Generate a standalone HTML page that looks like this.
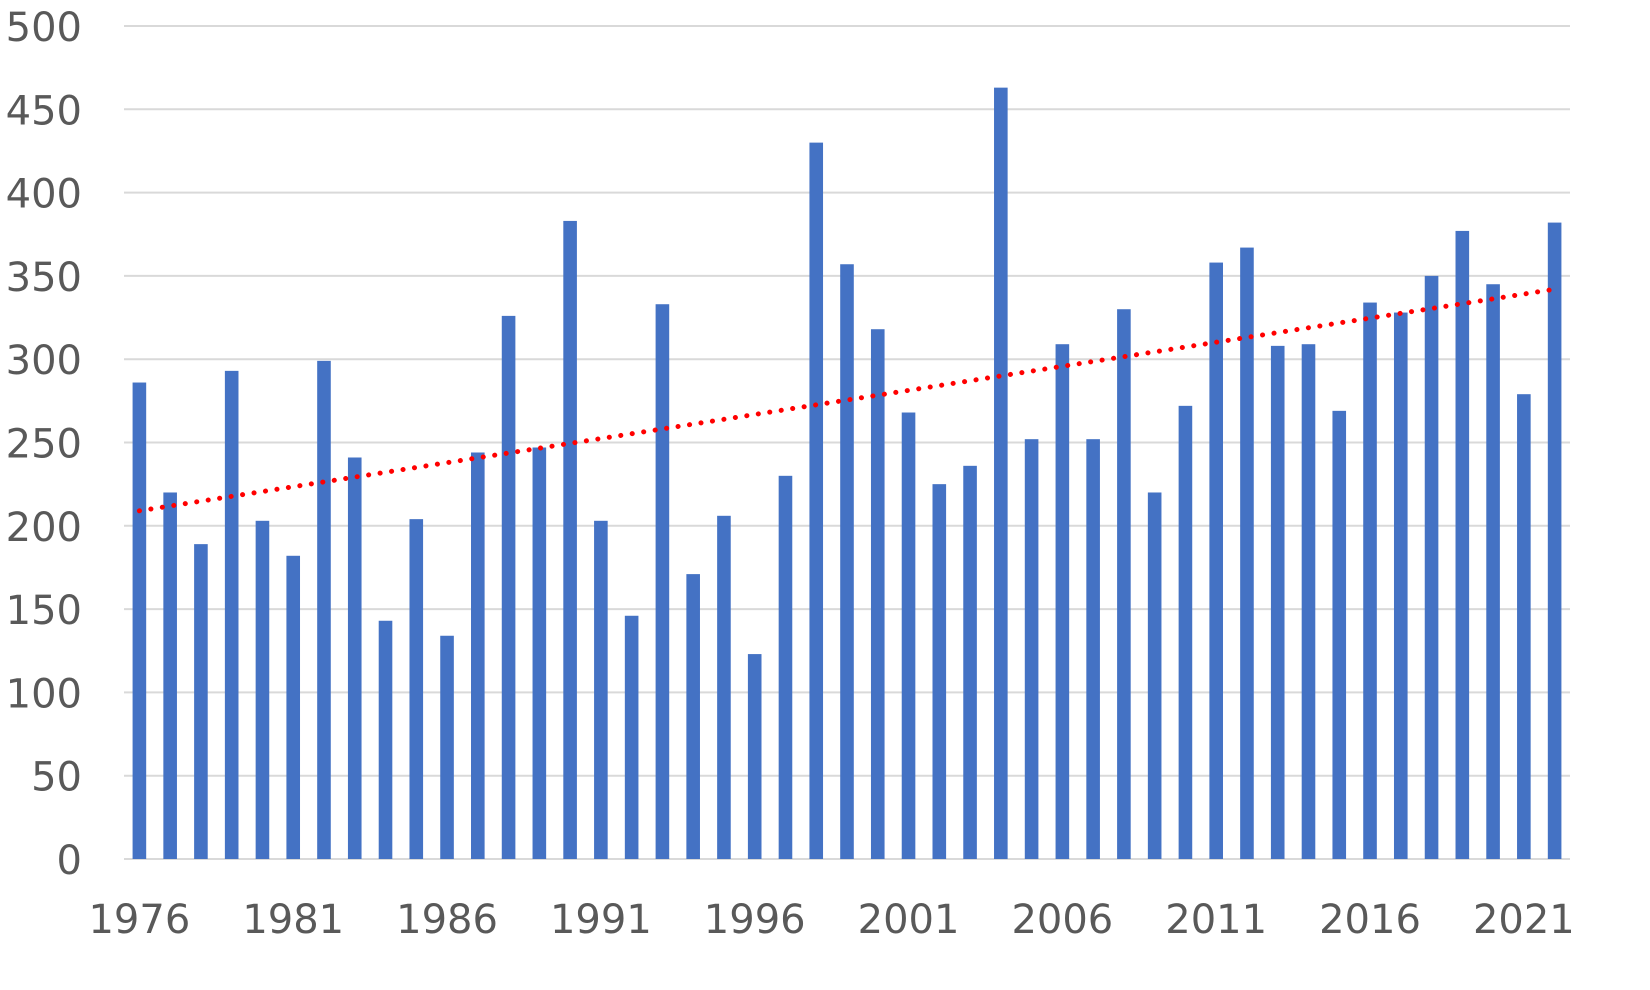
<!DOCTYPE html>
<html><head><meta charset="utf-8"><style>
html,body{margin:0;padding:0;background:#fff;width:1650px;height:990px;overflow:hidden}
svg text{font-family:"DejaVu Sans","Liberation Sans",sans-serif;fill:#595959;font-size:40px}
</style></head><body>
<svg id="c" width="1650" height="990" xmlns="http://www.w3.org/2000/svg"></svg>
<script>
var v=[286,220,189,293,203,182,299,241,143,204,134,244,326,247,383,203,146,333,171,206,123,230,430,357,318,268,225,236,463,252,309,252,330,220,272,358,367,308,309,269,334,328,350,377,345,279,382];
var L=124,R=1570,Y0=859,S=833/500,W=(R-L)/47;
var s='';
for(var g=0;g<=10;g++){var y=Y0-g*50*S;
 s+='<line x1="'+L+'" x2="'+R+'" y1="'+y+'" y2="'+y+'" stroke="#d9d9d9" stroke-width="2"/>';
 s+='<text x="82" y="'+(y+15)+'" text-anchor="end">'+(g*50)+'</text>';}
for(var i=0;i<47;i++){var cx=L+W*(i+0.5),h=v[i]*S;
 s+='<rect x="'+(cx-6.8)+'" y="'+(Y0-h)+'" width="13.6" height="'+h+'" fill="#4472c4"/>';
 if(i%5==0)s+='<text x="'+cx+'" y="933" text-anchor="middle">'+(1976+i)+'</text>';}
var x1=L+W*0.5,x2=L+W*46.5;
s+='<line x1="'+x1+'" y1="'+(Y0-209*S)+'" x2="'+x2+'" y2="'+(Y0-342*S)+'" stroke="#ff0000" stroke-width="5" stroke-linecap="round" stroke-dasharray="0.1 11.5"/>';
document.getElementById('c').innerHTML=s;
</script>
</body></html>
